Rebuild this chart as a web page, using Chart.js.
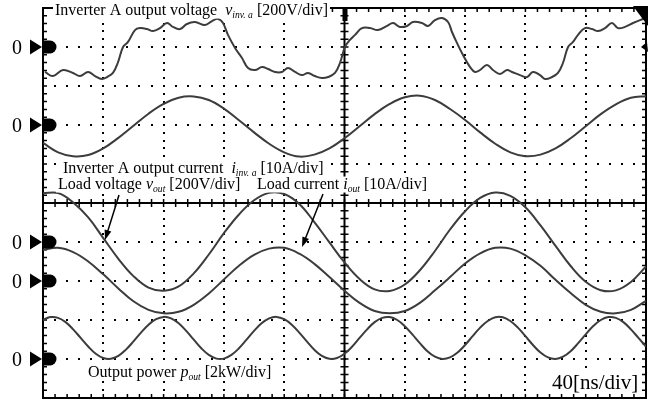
<!DOCTYPE html>
<html>
<head>
<meta charset="utf-8">
<script src="https://cdn.jsdelivr.net/npm/chart.js@4.4.1/dist/chart.umd.min.js"></script>
<style>
  html, body { margin: 0; padding: 0; background: #fff; }
  #wrap { width: 665px; height: 405px; }
</style>
</head>
<body>
<div id="wrap"><canvas id="scope" width="665" height="405"></canvas></div>
<script>
// time base: 40 ns/div, 10 divisions
const timeNs = [0, 10, 20, 30, 40, 50, 60, 70, 80, 90, 100, 110, 120, 130, 140, 150, 160, 170, 180, 190,
  200, 210, 220, 230, 240, 250, 260, 270, 280, 290, 300, 310, 320, 330, 340, 350, 360, 370, 380, 390, 400];

// CH1 inverter A output voltage [V]
const invVoltT = [1.3, 6.6, 13.3, 19.9, 24.5, 29.9, 34.5, 39.1, 42.5, 46.4, 49.8, 53.1, 56.4, 61.0, 64.3, 69.0,
  73.0, 77.6, 82.3, 86.2, 90.9, 95.5, 100.8, 107.5, 112.1, 116.1, 119.4, 122.7, 127.4, 132.0, 136.0, 140.6,
  145.3, 149.3, 153.9, 158.5, 162.5, 167.2, 171.8, 175.8, 180.4, 185.1, 189.1, 193.7, 197.0, 200.3, 203.6,
  207.0, 211.6, 216.9, 222.2, 228.2, 232.2, 236.8, 241.5, 245.4, 251.4, 255.4, 260.0, 264.7, 268.7, 271.3,
  274.6, 278.6, 283.3, 286.6, 289.9, 294.5, 298.5, 303.2, 307.8, 311.1, 316.4, 321.1, 325.0, 329.7, 333.0,
  337.6, 341.6, 344.9, 348.3, 351.6, 354.9, 359.5, 364.2, 368.2, 372.8, 377.4, 381.4, 386.1, 391.4, 396.0, 400];
const invVoltV = [-128, -149, -118, -133, -149, -128, -149, -164, -154, -133, -77, 0, 26, 87, 97, 92,
  82, 97, 123, 103, 92, 118, 128, 113, 133, 144, 123, 62, -5, -56, -108, -118,
  -103, -113, -128, -128, -108, -128, -144, -133, -149, -159, -154, -133, -82, 0, 36,
  62, 97, 97, 87, 108, 123, 103, 108, 128, 123, 108, 138, 149, 128, 77,
  21, -41, -103, -128, -118, -92, -118, -138, -118, -128, -144, -154, -128, -144, -164,
  -154, -133, -82, 0, 26, 62, 97, 92, 82, 97, 123, 97, 103, 123, 138, 149];

// CH2 inverter A output current [A]
const invCurrent = [-4.6, -7.0, -8.0, -7.7, -6.0, -3.3, -0.2, 2.9, 5.4, 7.0, 7.3, 6.4, 4.2, 1.2, -1.9, -4.8,
  -7.0, -8.1, -7.6, -6.0, -3.4, -0.3, 2.8, 5.4, 7.1, 7.5, 6.4, 4.1, 1.3, -1.9, -4.8, -7.0, -8.0, -7.6, -6.0,
  -3.4, -0.3, 2.8, 5.3, 7.0, 7.4];

// CH3 load voltage [V]
const loadVoltage = [250, 251, 203, 126, 20, -86, -175, -234, -250, -228, -161, -64, 45, 141, 214, 252,
  246, 195, 102, -2, -105, -190, -243, -251, -218, -145, -46, 64, 158, 226, 254, 237, 178, 85, -20, -123,
  -204, -247, -248, -205, -126];

// CH4 load current [A]
const loadCurrent = [8.0, 8.5, 7.4, 5.0, 1.7, -1.9, -5.2, -7.4, -8.3, -7.9, -6.1, -3.2, 0.4, 3.9, 6.7, 8.3,
  8.5, 7.0, 4.4, 1.0, -2.5, -5.6, -7.7, -8.3, -7.7, -5.6, -2.4, 1.0, 4.5, 7.1, 8.5, 8.3, 6.6, 3.9, 0.3, -3.1,
  -6.1, -7.9, -8.3, -7.4, -5.1];

// MATH output power [kW]
const powerTimeNs = [0, 5, 10, 15, 20, 25, 30, 35, 40, 45, 50, 55, 60, 65, 70, 75, 80, 85, 90, 95,
  100, 105, 110, 115, 120, 125, 130, 135, 140, 145, 150, 155, 160, 165, 170, 175, 180, 185, 190, 195,
  200, 205, 210, 215, 220, 225, 230, 235, 240, 245, 250, 255, 260, 265, 270, 275, 280, 285, 290, 295,
  300, 305, 310, 315, 320, 325, 330, 335, 340, 345, 350, 355, 360, 365, 370, 375, 380, 385, 390, 395, 400];
const outputPower = [2.00, 2.15, 2.11, 1.89, 1.52, 1.08, 0.64, 0.27, 0.05, 0.01,
  0.16, 0.48, 0.90, 1.35, 1.76, 2.04, 2.16, 2.08, 1.83, 1.44,
  0.99, 0.55, 0.21, 0.02, 0.02, 0.21, 0.55, 0.99, 1.44, 1.83,
  2.08, 2.16, 2.04, 1.76, 1.35, 0.90, 0.47, 0.16, 0.01, 0.05,
  0.27, 0.63, 1.08, 1.52, 1.89, 2.11, 2.15, 2.00, 1.68, 1.26,
  0.81, 0.40, 0.12, 0.00, 0.08, 0.33, 0.72, 1.17, 1.61, 1.95,
  2.14, 2.14, 1.95, 1.61, 1.17, 0.72, 0.33, 0.08, 0.00, 0.12,
  0.40, 0.81, 1.26, 1.69, 2.00, 2.15, 2.11, 1.89, 1.52, 1.08, 0.64];

// channel ground position (div) and sensitivity (unit/div)
const CH_ZERO = [4, 2, -1, -2, -4];
const CH_PER_DIV = [200, 10, 200, 10, 2];

const SERIF = '"Liberation Serif", "Times New Roman", serif';
const TRACE = '#3c3c3c';

function toDiv(ch, xs, ys) {
  return xs.map((t, i) => ({ x: t, y: CH_ZERO[ch] + ys[i] / CH_PER_DIV[ch] }));
}

// rich text: [{t, it, sub}]
function richWidth(ctx, parts, size) {
  let w = 0;
  for (const p of parts) {
    ctx.font = (p.it ? 'italic ' : '') + (p.sub ? size * 0.6 : size) + 'px ' + SERIF;
    w += ctx.measureText(p.t).width;
  }
  return w;
}
function drawRich(ctx, x, y, parts, size) {
  let cx = x;
  for (const p of parts) {
    ctx.font = (p.it ? 'italic ' : '') + (p.sub ? size * 0.6 : size) + 'px ' + SERIF;
    ctx.fillText(p.t, cx, y + (p.sub ? size * 0.16 : 0));
    cx += ctx.measureText(p.t).width;
  }
}

const LABELS = [
  { x: 55, y: 15, size: 16, parts: [{ t: 'Inverter A output voltage  ' }, { t: 'v', it: true }, { t: 'inv. a', it: true, sub: true }, { t: ' [200V/div]' }] },
  { x: 63, y: 173, size: 16, parts: [{ t: 'Inverter A output current  ' }, { t: 'i', it: true }, { t: 'inv. a', it: true, sub: true }, { t: ' [10A/div]' }] },
  { x: 58, y: 189, size: 16, parts: [{ t: 'Load voltage ' }, { t: 'v', it: true }, { t: 'out', it: true, sub: true }, { t: ' [200V/div]' }] },
  { x: 257, y: 189, size: 16, parts: [{ t: 'Load current ' }, { t: 'i', it: true }, { t: 'out', it: true, sub: true }, { t: ' [10A/div]' }] },
  { x: 88, y: 377, size: 16, parts: [{ t: 'Output power ' }, { t: 'p', it: true }, { t: 'out', it: true, sub: true }, { t: ' [2kW/div]' }] },
  { x: 552, y: 389, size: 21, parts: [{ t: '40[ns/div]' }] },
];

const ARROWS = [
  [119, 195, 105, 240],
  [323, 194, 302, 247],
];

const graticule = {
  id: 'graticule',
  beforeDatasetsDraw(chart) {
    const { ctx, chartArea: a, scales: { x, y } } = chart;
    ctx.save();
    ctx.fillStyle = '#000';
    // dotted division lines
    for (let d = -4; d <= 4; d++) {
      if (d === 0) continue;
      const py = Math.round(y.getPixelForValue(d));
      for (let t = 0; t <= 400; t += 8) {
        ctx.fillRect(Math.round(x.getPixelForValue(t)) - 1, py - 1, 2, 2);
      }
    }
    for (let t = 40; t <= 360; t += 40) {
      if (t === 200) continue;
      const px = Math.round(x.getPixelForValue(t));
      for (let k = -25; k <= 25; k++) {
        ctx.fillRect(px - 1, Math.round(y.getPixelForValue(k / 5)) - 1, 2, 2);
      }
    }
    // center axes with minor ticks
    const cx = x.getPixelForValue(200), cy = y.getPixelForValue(0);
    ctx.strokeStyle = '#000';
    ctx.lineWidth = 2;
    ctx.beginPath();
    ctx.moveTo(a.left, cy); ctx.lineTo(a.right, cy);
    ctx.moveTo(cx, a.top); ctx.lineTo(cx, a.bottom);
    ctx.stroke();
    ctx.lineWidth = 1.5;
    ctx.beginPath();
    for (let t = 0; t <= 400; t += 8) {
      const px = x.getPixelForValue(t);
      ctx.moveTo(px, cy - 4); ctx.lineTo(px, cy + 4);
      ctx.moveTo(px, a.top); ctx.lineTo(px, a.top + 4);
      ctx.moveTo(px, a.bottom); ctx.lineTo(px, a.bottom - 4);
    }
    for (let k = -25; k <= 25; k++) {
      const py = y.getPixelForValue(k / 5);
      ctx.moveTo(cx - 4, py); ctx.lineTo(cx + 4, py);
      ctx.moveTo(a.left, py); ctx.lineTo(a.left + 4, py);
      ctx.moveTo(a.right, py); ctx.lineTo(a.right - 4, py);
    }
    ctx.stroke();
    ctx.lineWidth = 2;
    ctx.strokeRect(a.left, a.top, a.right - a.left, a.bottom - a.top);
    ctx.restore();
  },
  afterDatasetsDraw(chart) {
    const { ctx, chartArea: a, scales: { x, y } } = chart;
    ctx.save();
    ctx.textBaseline = 'alphabetic';
    // labels on white
    for (const L of LABELS) {
      const w = richWidth(ctx, L.parts, L.size);
      ctx.fillStyle = '#fff';
      ctx.fillRect(L.x - 2, L.y - L.size * 0.78, w + 4, L.size * 1.0);
      ctx.fillStyle = '#000';
      drawRich(ctx, L.x, L.y, L.parts, L.size);
    }
    // arrows
    ctx.strokeStyle = '#000';
    ctx.fillStyle = '#000';
    ctx.lineWidth = 1.5;
    for (const [x0, y0, x1, y1] of ARROWS) {
      const ang = Math.atan2(y1 - y0, x1 - x0);
      ctx.beginPath();
      ctx.moveTo(x0, y0);
      ctx.lineTo(x1 - 6 * Math.cos(ang), y1 - 6 * Math.sin(ang));
      ctx.stroke();
      ctx.beginPath();
      ctx.moveTo(x1, y1);
      ctx.lineTo(x1 - 10 * Math.cos(ang) + 3.5 * Math.sin(ang), y1 - 10 * Math.sin(ang) - 3.5 * Math.cos(ang));
      ctx.lineTo(x1 - 10 * Math.cos(ang) - 3.5 * Math.sin(ang), y1 - 10 * Math.sin(ang) + 3.5 * Math.cos(ang));
      ctx.closePath();
      ctx.fill();
    }
    // ground markers "0 ▶●"
    ctx.font = '20px ' + SERIF;
    for (const z of CH_ZERO) {
      const py = y.getPixelForValue(z);
      ctx.fillText('0', 12, py + 7);
      ctx.beginPath();
      ctx.moveTo(30, py - 7.5); ctx.lineTo(42, py); ctx.lineTo(30, py + 7.5);
      ctx.closePath(); ctx.fill();
      ctx.beginPath();
      ctx.moveTo(43, py - 6.5);
      ctx.lineTo(50, py - 6.5);
      ctx.arc(50, py, 6.5, -Math.PI / 2, Math.PI / 2);
      ctx.lineTo(43, py + 6.5);
      ctx.closePath(); ctx.fill();
    }
    // trigger markers
    const tx = x.getPixelForValue(200);
    ctx.fillRect(tx - 2, a.top, 5, 13);
    ctx.beginPath();
    ctx.moveTo(a.right - 13, a.top - 2); ctx.lineTo(a.right + 2, a.top - 2);
    ctx.lineTo(a.right + 2, a.top + 18); ctx.closePath(); ctx.fill();
    const ly = y.getPixelForValue(CH_ZERO[0]);
    ctx.beginPath();
    ctx.moveTo(a.right - 5, ly); ctx.lineTo(a.right + 1, ly - 5);
    ctx.lineTo(a.right + 2, ly + 5); ctx.closePath(); ctx.fill();
    ctx.restore();
  },
};

function trace(data, tension) {
  return { data, borderColor: TRACE, borderWidth: 2, pointRadius: 0, tension, fill: false };
}

new Chart(document.getElementById('scope'), {
  type: 'line',
  data: {
    datasets: [
      trace(toDiv(0, invVoltT, invVoltV), 0.4),
      trace(toDiv(1, timeNs, invCurrent), 0.4),
      trace(toDiv(2, timeNs, loadVoltage), 0.4),
      trace(toDiv(3, timeNs, loadCurrent), 0.4),
      trace(toDiv(4, powerTimeNs, outputPower), 0.4),
    ],
  },
  options: {
    responsive: false, animation: false,
    layout: { padding: { left: 43, right: 19, top: 8, bottom: 7 } },
    plugins: { legend: { display: false }, tooltip: { enabled: false } },
    scales: {
      x: { type: 'linear', min: 0, max: 400, display: false },
      y: { type: 'linear', min: -5, max: 5, display: false },
    },
  },
  plugins: [graticule],
});
</script>
</body>
</html>
